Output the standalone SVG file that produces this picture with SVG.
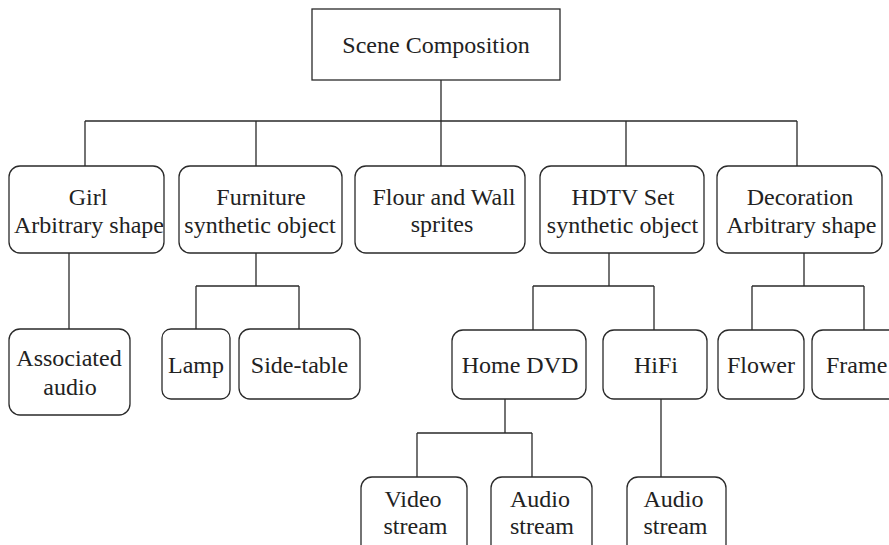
<svg xmlns="http://www.w3.org/2000/svg" width="889" height="545" viewBox="0 0 889 545">
<style>
.box{fill:#fff;stroke:#2a2a2a;stroke-width:1.3}
.ln{fill:none;stroke:#2a2a2a;stroke-width:1.3}
text{font-family:'Liberation Serif','Times New Roman',Times,'DejaVu Serif',serif;font-size:24px;fill:#222;text-anchor:middle}
</style>
<rect width="889" height="545" fill="#fff"/>
<g id="connectors" class="ln">
<path d="M441 80V166M85 121H797M85 121V166M256 121V166M626 121V166M797 121V166"/>
<path d="M69 253V329"/>
<path d="M256 253V286M196 286H299M196 286V329M299 286V329"/>
<path d="M609 253V286M533 286H654M533 286V330M654 286V330"/>
<path d="M804 253V286M752 286H864M752 286V330M864 286V330"/>
<path d="M505 399V433M417 433H532M417 433V477M532 433V477"/>
<path d="M661 399V477"/>
</g>
<g id="scene"><rect class="box" x="312" y="9" width="248" height="71"/><text x="436" y="53" font-family="Liberation Serif, serif">Scene Composition</text></g>
<g id="girl"><rect class="box" x="9" y="166" width="155" height="87" rx="11"/><text x="88" y="205">Girl</text><text x="89" y="233">Arbitrary shape</text></g>
<g id="furniture"><rect class="box" x="179" y="166" width="163" height="87" rx="11"/><text x="261" y="205">Furniture</text><text x="260" y="233">synthetic object</text></g>
<g id="flour"><rect class="box" x="355" y="166" width="170" height="87" rx="11"/><text x="444" y="205">Flour and Wall</text><text x="442" y="232">sprites</text></g>
<g id="hdtv"><rect class="box" x="540" y="166" width="164" height="87" rx="11"/><text x="623" y="205">HDTV Set</text><text x="622.5" y="233">synthetic object</text></g>
<g id="decoration"><rect class="box" x="717" y="166" width="165" height="87" rx="11"/><text x="800" y="205">Decoration</text><text x="801.5" y="233">Arbitrary shape</text></g>
<g id="audio-girl"><rect class="box" x="9" y="329" width="121" height="86" rx="11"/><text x="69" y="366">Associated</text><text x="70" y="395">audio</text></g>
<g id="lamp"><rect class="box" x="162" y="329" width="68" height="70" rx="9"/><text x="196" y="373">Lamp</text></g>
<g id="sidetable"><rect class="box" x="239" y="329" width="121" height="70" rx="11"/><text x="299.5" y="373">Side-table</text></g>
<g id="homedvd"><rect class="box" x="452" y="330" width="134" height="69" rx="11"/><text x="520" y="373">Home DVD</text></g>
<g id="hifi"><rect class="box" x="603" y="330" width="104" height="69" rx="11"/><text x="656" y="373">HiFi</text></g>
<g id="flower"><rect class="box" x="718" y="330" width="86" height="69" rx="11"/><text x="761" y="373">Flower</text></g>
<g id="frame"><rect class="box" x="812" y="330" width="90" height="69" rx="11"/><text x="826" y="373" style="text-anchor:start">Frame</text></g>
<g id="video-stream"><rect class="box" x="361" y="477" width="106" height="80" rx="11"/><text x="413" y="507">Video</text><text x="415.5" y="534">stream</text></g>
<g id="audio-stream-dvd"><rect class="box" x="491" y="477" width="101" height="80" rx="11"/><text x="540" y="507">Audio</text><text x="542" y="534">stream</text></g>
<g id="audio-stream-hifi"><rect class="box" x="627" y="477" width="99" height="80" rx="11"/><text x="673.5" y="507">Audio</text><text x="675.5" y="534">stream</text></g>
</svg>
